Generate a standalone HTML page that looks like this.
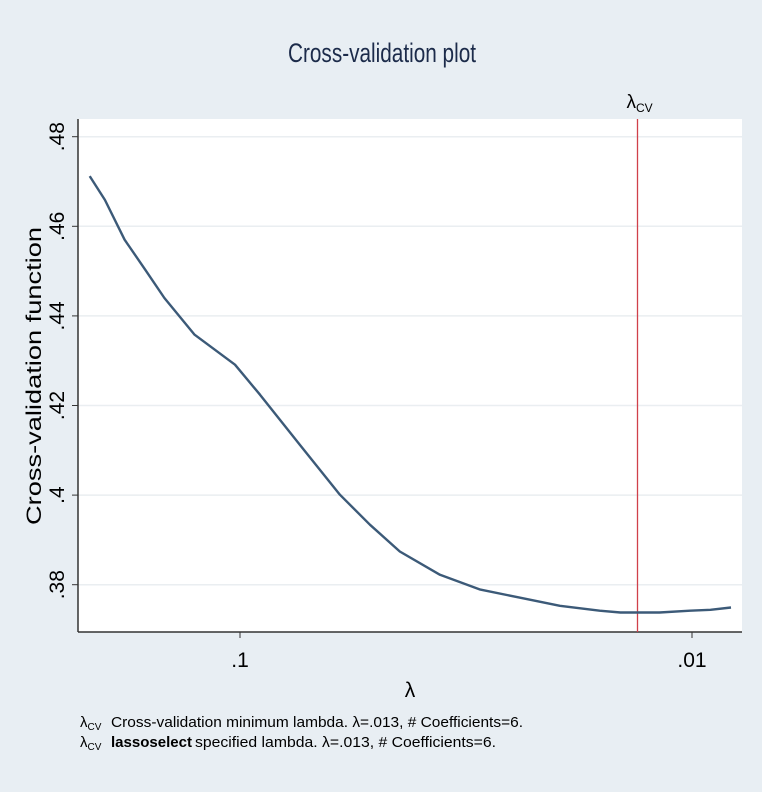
<!DOCTYPE html>
<html><head><meta charset="utf-8"><style>
html,body{margin:0;padding:0;background:#e8eef3;}
svg{display:block;font-family:"Liberation Sans",sans-serif;}
</style></head><body>
<svg id="chart" width="762" height="792" viewBox="0 0 762 792">
<rect x="0" y="0" width="762" height="792" fill="#e8eef3"/>
<text x="288" y="62" font-size="27" fill="#1c2b4a" textLength="188" lengthAdjust="spacingAndGlyphs">Cross-validation plot</text>
<rect x="78" y="119" width="664" height="513" fill="#ffffff"/>
<g id="grid"></g>
<g id="axes"></g>
<g id="series"></g>
<text transform="translate(41,525) rotate(-90)" font-size="21" fill="#000" textLength="298" lengthAdjust="spacingAndGlyphs">Cross-validation function</text>
<text x="410" y="697" text-anchor="middle" font-size="21" fill="#000">λ</text>
<g font-size="15" fill="#000">
<text x="80" y="727">λ<tspan font-size="10" dy="3">CV</tspan><tspan dy="-3" x="111" textLength="412" lengthAdjust="spacingAndGlyphs">Cross-validation minimum lambda.  λ=.013, # Coefficients=6.</tspan></text>
<text x="80" y="747">λ<tspan font-size="10" dy="3">CV</tspan><tspan dy="-3" x="111" font-weight="bold" textLength="81" lengthAdjust="spacingAndGlyphs">lassoselect</tspan><tspan x="195" textLength="301" lengthAdjust="spacingAndGlyphs">specified lambda.  λ=.013, # Coefficients=6.</tspan></text>
</g>
</svg>
<script>
const lambdas=[0.215,0.199,0.180,0.162,0.147,0.126,0.1026,0.0903,0.0737,0.0601,0.0516,0.0443,0.0361,0.0294,0.0240,0.0196,0.0160,0.0144,0.0118,0.0101,0.0091,0.0082];
const cvValues=[0.4712,0.4659,0.4570,0.4503,0.4440,0.4358,0.4291,0.4224,0.4112,0.4001,0.3934,0.3874,0.3822,0.3789,0.3771,0.3753,0.3742,0.3738,0.3738,0.3742,0.3744,0.3749];
const yTicks=[0.38,0.40,0.42,0.44,0.46,0.48];
const yTickLabels=[".38",".4",".42",".44",".46",".48"];
const xTicks=[0.1,0.01];
const xTickLabels=[".1",".01"];
const lambdaCV=0.0132;

const NS="http://www.w3.org/2000/svg";
const L=78,R=742,T=119,B=632;
function xs(l){return 240+(-1-Math.log10(l))*452;}
function ys(v){return 136.7+(0.48-v)/0.02*89.6;}
function mk(tag,attrs,parent){const e=document.createElementNS(NS,tag);for(const k in attrs)e.setAttribute(k,attrs[k]);parent.appendChild(e);return e;}
const grid=document.getElementById('grid'),axes=document.getElementById('axes'),series=document.getElementById('series');
yTicks.forEach((v,i)=>{
  const y=ys(v);
  const g=mk('line',{x1:L,x2:R,y1:y,y2:y,stroke:'#eaeef1','stroke-width':1.5},grid);
  
  
  const t=mk('line',{x1:L-6,x2:L,y1:y,y2:y,stroke:'#333','stroke-width':1},axes);
  
  
  const lb=mk('text',{transform:`translate(64,${y}) rotate(-90)`,'text-anchor':'middle','font-size':21,fill:'#000'},axes);
  lb.textContent=yTickLabels[i];
  
  
});
xTicks.forEach((v,i)=>{
  const x=xs(v);
  const t=mk('line',{x1:x,x2:x,y1:B,y2:B+6,stroke:'#333','stroke-width':1},axes);
  
  
  const lb=mk('text',{x:x,y:B+35,'text-anchor':'middle','font-size':21,fill:'#000'},axes);
  lb.textContent=xTickLabels[i];
  
  
});
const ya=mk('line',{x1:L,x2:L,y1:T,y2:B,stroke:'#333','stroke-width':1.5},axes);


const xa=mk('line',{x1:L,x2:R,y1:B,y2:B,stroke:'#333','stroke-width':1.5},axes);


const rx=xs(lambdaCV);
const rl=mk('line',{x1:rx,x2:rx,y1:T,y2:B,stroke:'#d0404a','stroke-width':1.3},series);


const rt=mk('text',{x:rx-11,y:108,'font-size':19,fill:'#000'},series);
rt.innerHTML='λ<tspan font-size="12" dy="4">CV</tspan>';


const d=lambdas.map((l,i)=>(i?'L':'M')+xs(l).toFixed(1)+','+ys(cvValues[i]).toFixed(1)).join(' ');
const p=mk('path',{d:d,fill:'none',stroke:'#3c5a78','stroke-width':2.4,'stroke-linejoin':'round'},series);


</script>
</body></html>
